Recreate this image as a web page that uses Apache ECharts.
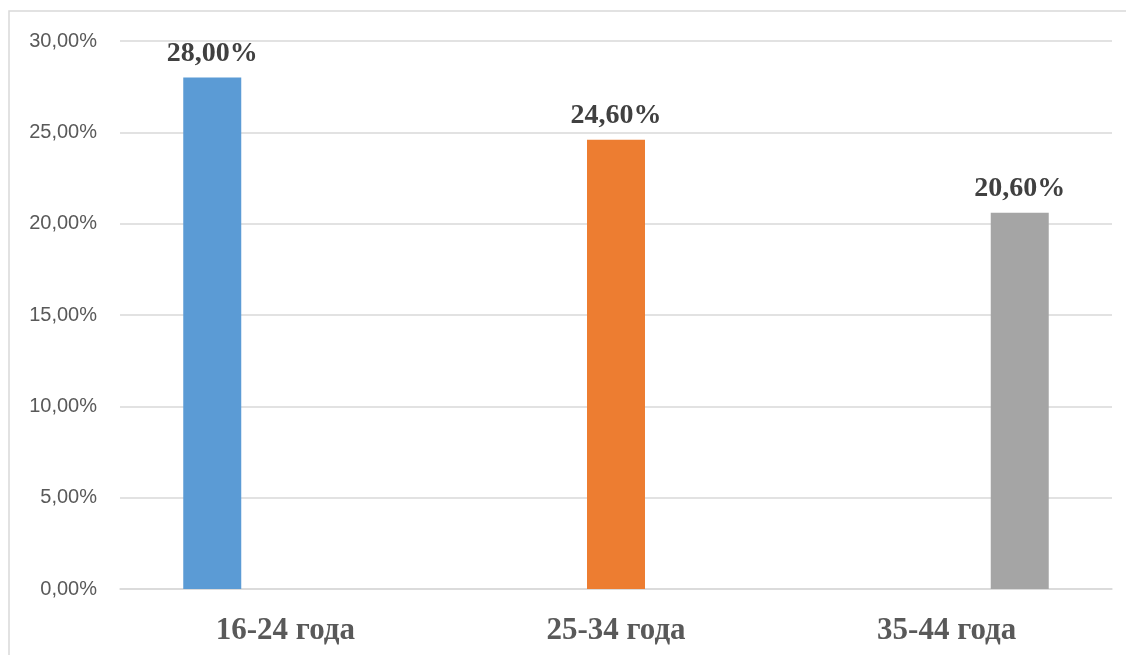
<!DOCTYPE html>
<html>
<head>
<meta charset="utf-8">
<script src="https://cdn.jsdelivr.net/npm/echarts@6/dist/echarts.min.js"></script>
<style>
  html, body { margin: 0; padding: 0; background: #fff; }
  #chart { width: 1126px; height: 655px; }
</style>
</head>
<body>
<div id="chart"></div>
<script>
// Age groups and their shares (percent)
const categories = ['16-24 года', '25-34 года', '35-44 года'];
const values = [28.0, 24.6, 20.6];
const colors = ['#5B9BD5', '#ED7D31', '#A5A5A5'];
const yTicks = { min: 0, max: 30, interval: 5 };

const fmtPct = v => v.toFixed(2).replace('.', ',') + '%';

// One series per age group so each bar takes its own slot within the category
const series = categories.map((name, i) => ({
  name: name,
  type: 'bar',
  barWidth: 58,
  barGap: '26%',
  data: categories.map((_, j) => (j === i ? values[i] : '-')),
  itemStyle: { color: colors[i] },
  label: {
    show: true,
    position: 'top',
    distance: 10,
    formatter: p => fmtPct(p.value),
    fontFamily: '"Liberation Serif", "Times New Roman", serif',
    fontWeight: 'bold',
    fontSize: 28,
    color: '#404040'
  }
}));

const chart = echarts.init(document.getElementById('chart'), null, { renderer: 'canvas' });
chart.setOption({
  animation: false,
  backgroundColor: '#fff',
  grid: { left: 120, right: 14, top: 41, bottom: 66, containLabel: false },
  graphic: [{
    type: 'rect',
    shape: { x: 9, y: 11, width: 1400, height: 1000 },
    style: { fill: 'none', stroke: '#D9D9D9', lineWidth: 1.5 },
    silent: true,
    z: -1
  }],
  xAxis: {
    type: 'category',
    data: categories,
    axisLine: { show: true, lineStyle: { color: '#D9D9D9', width: 1.5 } },
    axisTick: { show: false },
    axisLabel: {
      margin: 26,
      fontFamily: '"Liberation Serif", "Times New Roman", serif',
      fontWeight: 'bold',
      fontSize: 31,
      color: '#595959'
    }
  },
  yAxis: {
    type: 'value',
    min: yTicks.min,
    max: yTicks.max,
    interval: yTicks.interval,
    axisLine: { show: false },
    axisTick: { show: false },
    splitLine: { lineStyle: { color: '#D9D9D9', width: 1.5 } },
    axisLabel: {
      margin: 23,
      formatter: v => fmtPct(v),
      fontFamily: '"Liberation Sans", Arial, sans-serif',
      fontSize: 20,
      color: '#595959'
    }
  },
  series: series
});
</script>
</body>
</html>
